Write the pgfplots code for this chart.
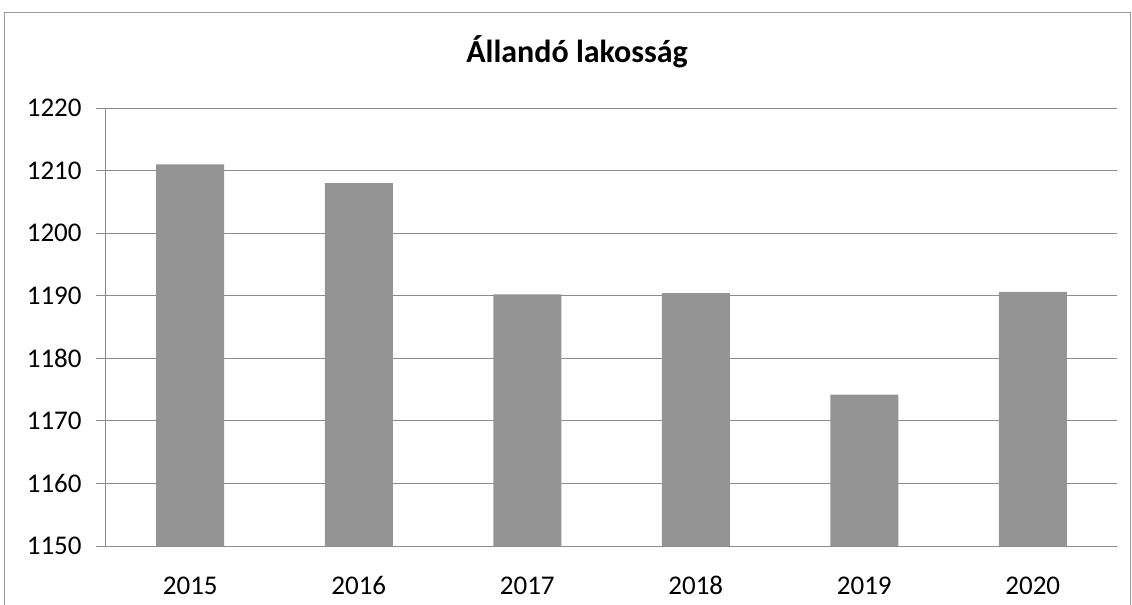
\documentclass[border=0pt]{standalone}
\usepackage{pgfplots}
\pgfplotsset{compat=1.18}
\usepackage{fontspec}
\setmainfont{Carlito}

\begin{document}
\begin{tikzpicture}
% page frame: 566bp x 302.5bp
\path[use as bounding box] (-53bp,-29.5bp) rectangle (513bp,273bp);
\draw[black!40, line width=0.5bp] (-50.5bp,-40bp) -- (-50.5bp,266.5bp) -- (512bp,266.5bp) -- (512bp,-40bp);
\node[anchor=base, font=\fontsize{16bp}{18bp}\selectfont\bfseries] at (235.5bp,241.5bp) {Állandó lakosság};
\begin{axis}[
    at={(0,0)}, anchor=south west,
    scale only axis,
    width=505.5bp, height=219bp,
    ybar, bar width=34bp,
    xmin=-0.5, xmax=5.5,
    ymin=1150, ymax=1220,
    ytick distance=10,
    xtick={0,1,2,3,4,5},
    xticklabels={2015,2016,2017,2018,2019,2020},
    axis line style={draw=none},
    xtick pos=bottom, ytick pos=left,
    ymajorgrids,
    grid style={black!45, line width=0.5bp},
    tick align=outside,
    major tick length=5bp,
    y tick style={draw=black!45, line width=0.5bp},
    x tick style={draw=none},
    extra x ticks={0.5,1.5,2.5,3.5,4.5,5.5},
    extra x tick labels={},
    extra x tick style={grid=none, major tick length=3bp, tick style={draw=black!45, line width=0.5bp}},
    tick label style={font=\fontsize{13.5bp}{15bp}\selectfont},
    /pgf/number format/assume math mode=true,
    /pgf/number format/1000 sep={},
    yticklabel style={inner sep=0pt, xshift=-7bp},
    xticklabel style={inner sep=0pt, text height=9bp, text depth=0pt, yshift=-10bp},
    clip=false,
]
\addplot[fill=black!42, draw=none] coordinates {
    (0,1211) (1,1208) (2,1190.2) (3,1190.4) (4,1174.2) (5,1190.6)
};
\draw[black!45, line width=0.5bp] (rel axis cs:0,1) -- (rel axis cs:0,0) -- (rel axis cs:1,0);
\end{axis}
\end{tikzpicture}
\end{document}
